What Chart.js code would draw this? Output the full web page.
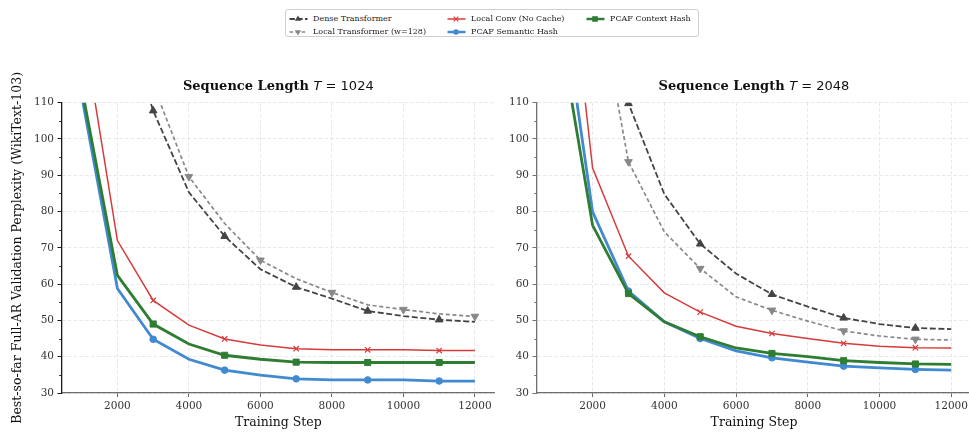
<!DOCTYPE html>
<html><head><meta charset="utf-8">
<script src="https://cdn.jsdelivr.net/npm/chart.js@4.4.1/dist/chart.umd.min.js"></script>
<style>
html,body{margin:0;padding:0;background:#fff;width:969px;height:432px;overflow:hidden;}
#wrap{position:relative;width:969px;height:432px;overflow:hidden;}
canvas{position:absolute;top:0;}
#legend{position:absolute;left:285px;top:9px;width:412px;height:26px;border:1px solid #cfcfcf;border-radius:3px;background:#fff;font-family:"DejaVu Serif";font-size:8px;color:#222;}
.li{position:absolute;height:12px;line-height:12px;white-space:nowrap;}
.li svg{position:absolute;left:0;top:0;}
.li span{position:absolute;left:24px;top:0;}
</style></head>
<body><div id="wrap">
<canvas id="c1" width="500" height="432" style="left:0"></canvas>
<canvas id="c2" width="475" height="432" style="left:500px"></canvas>
<div id="legend"></div>
</div>
<script>
// ---- data ----
const STEPS = [1000,2000,3000,4000,5000,6000,7000,8000,9000,10000,11000,12000];
const X_TICKS = [2000,4000,6000,8000,10000,12000];
const Y_TICKS = [30,40,50,60,70,80,90,100,110];
const Y_MINOR = [35,45,55,65,75,85,95,105];
const NAMES = ["Dense Transformer","Local Transformer (w=128)","Local Conv (No Cache)","PCAF Semantic Hash","PCAF Context Hash"];
const TITLES = ["1024","2048"];
const MARKS_ODD = [3000,5000,7000,9000,11000];
const MARKS_EVEN = [4000,6000,8000,10000,12000];

// T = 1024
const L_DENSE    = [null,139,107.8,85.3,73.2,64.1,59.2,56.0,52.6,51.2,50.2,49.6];
const L_LOCALT   = [null,150,115.0,89.6,76.7,66.6,61.5,57.7,54.3,53.0,51.8,51.1];
const L_CONV     = [133,72.0,55.5,48.7,44.9,43.2,42.2,41.9,41.9,41.9,41.7,41.7];
const L_SEMANTIC = [111.9,58.8,44.8,39.3,36.3,34.9,33.9,33.6,33.6,33.6,33.3,33.3];
const L_CONTEXT  = [114.2,62.4,49.0,43.5,40.4,39.3,38.5,38.4,38.4,38.4,38.4,38.4];
// T = 2048
const R_DENSE    = [null,140,109.8,84.8,71.1,62.9,57.2,53.8,50.7,49.0,47.9,47.6];
const R_LOCALT   = [null,148,93.7,74.4,64.3,56.5,52.8,49.8,47.1,45.7,44.8,44.6];
const R_CONV     = [181,92.0,67.7,57.6,52.3,48.4,46.4,45.0,43.7,42.9,42.5,42.4];
const R_SEMANTIC = [149,79.9,58.1,49.6,45.0,41.6,39.7,38.5,37.4,36.9,36.5,36.3];
const R_CONTEXT  = [135,76.2,57.4,49.6,45.5,42.4,40.9,40.0,38.9,38.4,38.0,37.9];

// ---- styles ----
const STY = [
  {color:'#444444', width:1.8, dash:[6,2.6], point:'triangle', r:4.4, rot:0, bw:1},
  {color:'#888888', width:1.7, dash:[4,2.7], point:'triangle', r:4.4, rot:180, bw:1},
  {color:'#d63b3b', width:1.5, dash:[], point:'crossRot', r:3.8, rot:0, bw:1.2},
  {color:'#4189d0', width:2.8, dash:[], point:'circle', r:3.3, rot:0, bw:1},
  {color:'#2e7d32', width:2.8, dash:[], point:'rect', r:4.3, rot:0, bw:1},
];
const FONT = '"DejaVu Serif"';

function mkDataset(i, vals, marks){
  const s = STY[i];
  return {
    label: NAMES[i],
    data: STEPS.map((x,k)=>({x:x, y:vals[k]})),
    borderColor: s.color, backgroundColor: s.color,
    borderWidth: s.width, borderDash: s.dash,
    pointStyle: s.point, pointRotation: s.rot,
    pointRadius: STEPS.map(x=> marks.includes(x) ? s.r : 0),
    pointHoverRadius: 0,
    pointBorderWidth: s.bw,
    pointBackgroundColor: s.color, pointBorderColor: s.color,
    tension: 0, fill:false, spanGaps:false,
    order: 5 - i
  };
}

const titlePlugin = {
  id:'mtitle',
  afterDraw(chart, args, opts){
    const ctx = chart.ctx, a = chart.chartArea;
    const parts = [
      {t:'Sequence Length ', f:'bold 13px "DejaVu Serif"'},
      {t:'T', f:'italic 13px "DejaVu Sans"'},
      {t:' = ', f:'13px "DejaVu Sans"'},
      {t:opts.len, f:'13px "DejaVu Sans"'}
    ];
    ctx.save();
    let total = 0;
    parts.forEach(p=>{ctx.font=p.f; p.w=ctx.measureText(p.t).width; total+=p.w;});
    let x = (a.left + a.right)/2 - total/2;
    ctx.fillStyle = '#111'; ctx.textBaseline='middle'; ctx.textAlign='left';
    parts.forEach(p=>{ctx.font=p.f; ctx.fillText(p.t, x, 87); x+=p.w;});
    ctx.restore();
  }
};
const minorPlugin = {
  id:'minor',
  afterDraw(chart, args, opts){
    const ctx = chart.ctx, ys = chart.scales.y, a = chart.chartArea;
    ctx.save(); ctx.strokeStyle = opts.color; ctx.lineWidth = 1;
    Y_MINOR.forEach(v=>{
      const y = Math.round(ys.getPixelForValue(v)) + 0.5;
      ctx.beginPath(); ctx.moveTo(a.left - 2.7, y); ctx.lineTo(a.left, y); ctx.stroke();
    });
    ctx.restore();
  }
};

function mkChart(id, sets, len, yWidth, ySpine, yTitle){
  const ctx = document.getElementById(id);
  return new Chart(ctx, {
    type:'line',
    data:{datasets:sets},
    plugins:[titlePlugin, minorPlugin],
    options:{
      responsive:false, animation:false, devicePixelRatio:1,
      layout:{padding:{top:102.7, right:4, left:0, bottom:0}},
      plugins:{legend:{display:false}, tooltip:{enabled:false}, mtitle:{len:len}, minor:{color:ySpine}},
      scales:{
        x:{type:'linear', min:450, max:12550,
          afterBuildTicks:(s)=>{s.ticks = X_TICKS.map(v=>({value:v}));},
          afterFit:(s)=>{s.height = 39;},
          ticks:{font:{family:FONT,size:10.5}, color:'#333', padding:2.5, maxRotation:0, autoSkip:false,
                 callback:(v)=>String(v)},
          grid:{color:'#e2e2e2', lineWidth:0.8, tickLength:4, tickColor:'#666', tickWidth:1},
          border:{display:true, color:'#6e6e6e', width:1.3, dash:[3.5,2.2]},
          title:{display:true, text:'Training Step', font:{family:FONT,size:12.5}, color:'#111', padding:{top:0,bottom:1.5}}
        },
        y:{type:'linear', min:30, max:110,
          afterBuildTicks:(s)=>{s.ticks = Y_TICKS.map(v=>({value:v}));},
          afterFit:(s)=>{s.width = yWidth;},
          ticks:{font:{family:FONT,size:10.5}, color:'#333', padding:3.5, callback:(v)=>String(v)},
          grid:{color:'#e2e2e2', lineWidth:0.8, tickLength:4.5, tickColor:ySpine, tickWidth:1},
          border:{display:true, color:ySpine, width:1.3, dash:[3.5,2.2]},
          title:{display:!!yTitle, text:yTitle||'', font:{family:FONT,size:12.5}, color:'#111', padding:{top:10.5,bottom:0}}
        }
      }
    }
  });
}

mkChart('c1', [
  mkDataset(0, L_DENSE, MARKS_ODD),
  mkDataset(1, L_LOCALT, MARKS_EVEN),
  mkDataset(2, L_CONV, MARKS_ODD),
  mkDataset(3, L_SEMANTIC, MARKS_ODD),
  mkDataset(4, L_CONTEXT, MARKS_ODD)
], TITLES[0], 62, '#1a1a1a', 'Best-so-far Full-AR Validation Perplexity (WikiText-103)');

mkChart('c2', [
  mkDataset(0, R_DENSE, MARKS_ODD),
  mkDataset(1, R_LOCALT, MARKS_ODD),
  mkDataset(2, R_CONV, MARKS_ODD),
  mkDataset(3, R_SEMANTIC, MARKS_ODD),
  mkDataset(4, R_CONTEXT, MARKS_ODD)
], TITLES[1], 37, '#707070', null);

// ---- legend (HTML) ----
const LEG_POS = [[3,3],[3,16],[161,3],[161,16],[300,3]];
function markerSVG(s){
  const cx=9, cy=6;
  if(s.point==='triangle'){
    const r=3.6; const up = s.rot===0;
    const pts = up ? [[cx,cy-r],[cx+r*0.87,cy+r*0.5],[cx-r*0.87,cy+r*0.5]] : [[cx,cy+r],[cx+r*0.87,cy-r*0.5],[cx-r*0.87,cy-r*0.5]];
    return `<polygon points="${pts.map(p=>p.join(',')).join(' ')}" fill="${s.color}"/>`;
  }
  if(s.point==='crossRot') return `<path d="M${cx-2.3},${cy-2.3}L${cx+2.3},${cy+2.3}M${cx-2.3},${cy+2.3}L${cx+2.3},${cy-2.3}" stroke="${s.color}" stroke-width="1.1"/>`;
  if(s.point==='circle') return `<circle cx="${cx}" cy="${cy}" r="2.8" fill="${s.color}"/>`;
  return `<rect x="${cx-2.8}" y="${cy-2.8}" width="5.6" height="5.6" fill="${s.color}"/>`;
}
const leg = document.getElementById('legend');
NAMES.forEach((n,i)=>{
  const s = STY[i];
  const d = document.createElement('div'); d.className='li';
  d.style.left = LEG_POS[i][0]+'px'; d.style.top = LEG_POS[i][1]+'px';
  const dash = s.dash.length ? `stroke-dasharray="${s.dash.map(v=>v*0.9).join(',')}"` : '';
  d.innerHTML = `<svg width="19" height="12"><line x1="0.5" y1="6" x2="18.5" y2="6" stroke="${s.color}" stroke-width="${Math.min(s.width,2.5)}" ${dash}/>${markerSVG(s)}</svg><span>${n}</span>`;
  leg.appendChild(d);
});
</script>
</body></html>
